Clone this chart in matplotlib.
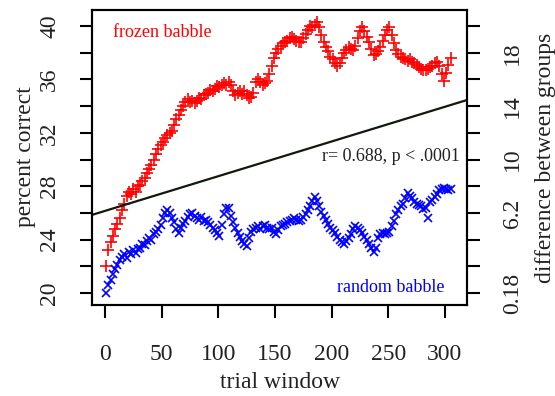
import numpy as np
import matplotlib
matplotlib.use("Agg")
import matplotlib.pyplot as plt

plt.rcParams['font.family'] = ['Liberation Serif', 'DejaVu Serif']

# trial windows (every other window)
trial = np.arange(1, 306, 2)

frozen = [22.0, 23.2, 23.8, 24.3, 24.8, 25.2, 25.6, 26.2, 26.7, 27.3,
          27.6, 27.4, 27.8, 27.6, 28.0, 28.1, 28.4, 28.6, 29.0, 29.3,
          29.6, 30.0, 30.4, 30.8, 31.1, 31.3, 31.6, 31.8, 32.0, 32.1,
          32.6, 33.0, 33.3, 33.7, 34.0, 34.3, 34.5, 34.3, 34.4, 34.2,
          34.4, 34.6, 34.5, 34.8, 34.9, 35.0, 35.2, 35.1, 35.3, 35.5,
          35.4, 35.6, 35.7, 35.6, 35.8, 35.6, 35.1, 34.8, 35.0, 35.1,
          34.9, 35.1, 34.8, 34.6, 34.7, 35.0, 35.8, 36.0, 35.8, 35.6,
          35.7, 35.9, 36.4, 37.0, 37.6, 38.0, 38.3, 38.5, 38.7, 38.8,
          38.9, 39.1, 39.2, 39.0, 38.9, 38.8, 38.8, 39.1, 39.4, 39.7,
          40.0, 39.9, 40.1, 40.3, 39.9, 39.3, 38.8, 38.4, 38.1, 37.7,
          37.5, 37.2, 37.0, 37.2, 37.6, 38.0, 38.2, 38.4, 38.3, 38.2,
          38.5, 39.1, 39.6, 39.9, 39.6, 39.2, 38.8, 38.3, 37.8, 37.9,
          38.1, 38.4, 38.9, 39.3, 39.7, 39.9, 39.3, 38.7, 38.2, 37.9,
          37.7, 37.6, 37.5, 37.4, 37.5, 37.3, 37.2, 37.1, 36.9, 36.8,
          36.7, 36.7, 36.8, 36.9, 37.0, 37.2, 37.3, 37.0, 36.4, 35.9,
          36.5, 37.1, 37.6]

random_b = [20.0, 20.6, 21.0, 21.4, 21.8, 22.1, 22.5, 22.7, 22.9, 22.6,
            23.1, 22.9, 23.2, 23.0, 23.3, 23.4, 23.7, 23.6, 23.9, 24.1,
            24.0, 24.4, 24.6, 24.8, 25.1, 25.6, 26.0, 26.2, 26.0, 25.6,
            25.3, 24.8, 24.5, 24.9, 25.2, 25.4, 25.7, 25.9, 26.0, 25.8,
            25.6, 25.5, 25.7, 25.4, 25.5, 25.3, 25.1, 24.9, 24.7, 24.5,
            24.3, 25.1, 25.9, 26.4, 26.4, 25.8, 25.3, 24.9, 24.5, 24.2,
            23.9, 23.7, 23.5, 24.1, 24.6, 24.8, 24.9, 25.0, 24.8, 25.0,
            25.1, 24.9, 24.8, 24.9, 24.6, 24.4, 24.7, 25.0, 25.1, 25.2,
            25.3, 25.4, 25.5, 25.6, 25.5, 25.4, 25.5, 25.7, 25.9, 26.2,
            26.5, 26.9, 27.2, 26.9, 26.5, 26.1, 25.8, 25.5, 25.2, 24.9,
            24.7, 24.5, 24.2, 24.0, 23.8, 23.7, 23.9, 24.1, 24.4, 24.8,
            25.0, 24.9, 24.7, 24.5, 24.2, 24.0, 23.7, 23.4, 23.1, 23.4,
            24.1, 24.4, 24.5, 24.4, 24.5, 24.6, 25.0, 25.4, 25.9, 26.2,
            26.5, 26.7, 27.1, 27.5, 27.3, 27.1, 26.8, 26.7, 26.6, 26.5,
            26.3, 26.4, 25.6, 26.8, 27.0, 27.2, 27.4, 27.7, 27.8, 27.9,
            27.8, 27.7, 27.8]

# fitted line (left-axis units)
fit_a = 26.15
fit_b = 0.026

left_ticks = np.arange(20, 41, 2)
left_labels = ['20', '', '24', '', '28', '', '32', '', '36', '', '40']
right_labels = ['0.18', '', '', '6.2', '', '10', '', '14', '', '18', '']
x_ticks = [0, 50, 100, 150, 200, 250, 300]

fig = plt.figure(figsize=(5.55, 3.96), dpi=100)
ax = fig.add_axes([92/555, 1-305/396, 375/555, 295/396])

ax.plot(trial, frozen, ls='none', marker='+', ms=8.5, mew=1.2, color='#ff0000')
ax.plot(trial, random_b, ls='none', marker='x', ms=6, mew=1.2, color='#0000ff')
ax.axline((0, fit_a), slope=fit_b, color='#0d1a0d', lw=1.6)

ax.set_xlim(-11.5, 319.5)
ax.set_ylim(19.1, 41.2)

ax.set_xticks(x_ticks)
ax.set_yticks(left_ticks)
ax.set_yticklabels(left_labels, rotation=90, va='center')
ax.tick_params(axis='both', length=9, width=1.5, labelsize=17, labelcolor='#222222')
ax.tick_params(axis='x', pad=19)
ax.tick_params(axis='y', pad=14)
for s in ax.spines.values():
    s.set_linewidth(1.5)

ax2 = ax.twinx()
ax2.set_ylim(ax.get_ylim())
ax2.set_yticks(left_ticks)
ax2.set_yticklabels(right_labels, rotation=90, va='center')
ax2.tick_params(axis='y', length=9, width=1.5, labelsize=17, labelcolor='#222222', pad=16)
for s in ax2.spines.values():
    s.set_linewidth(1.5)

ax.text(7, 39.55, 'frozen babble', color='#ff0000', fontsize=13, va='center', ha='left')
ax.text(300, 20.4, 'random babble', color='#0000ff', fontsize=13, va='center', ha='right')
ax.text(313, 30.2, 'r= 0.688, p < .0001', color='#222222', fontsize=13, va='center', ha='right')

fig.text(25/555, 1-157/396, 'percent correct', rotation=90, ha='center', va='center',
         fontsize=17, color='#222222')
fig.text(546/555, 1-158/396, 'difference between groups', rotation=90, ha='center', va='center',
         fontsize=17, color='#222222')
fig.text(280/555, 1-382/396, 'trial window', ha='center', va='center',
         fontsize=17, color='#222222')

fig.savefig('out.png', dpi=100)
